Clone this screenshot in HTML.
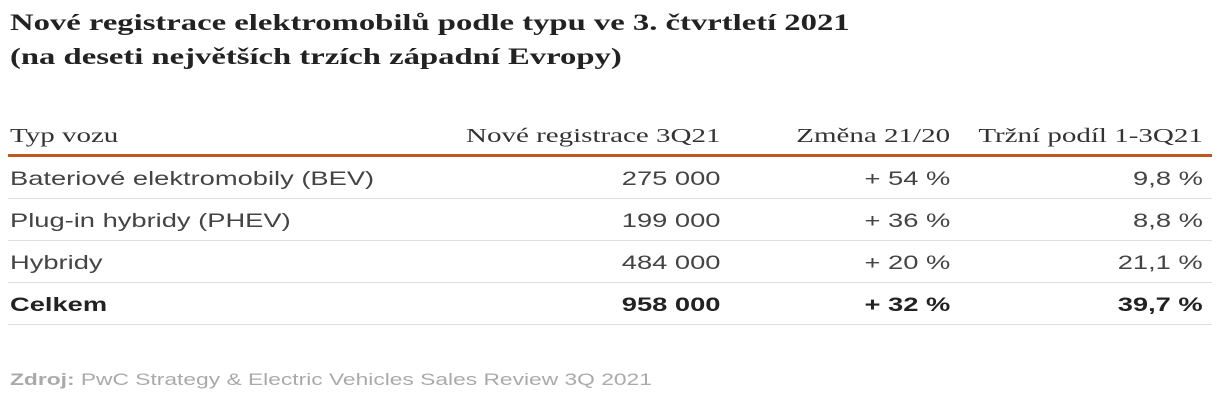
<!DOCTYPE html>
<html><head><meta charset="utf-8"><style>
body{margin:0;width:1227px;height:406px;background:#fff;position:relative;overflow:hidden;font-family:"Liberation Sans",sans-serif}
.t{position:absolute;left:10px;font-family:"Liberation Serif",serif;font-weight:bold;font-size:23px;color:#222;white-space:nowrap;transform:scaleX(1.42);transform-origin:left center}
.h{position:absolute;top:125px;font-family:"Liberation Serif",serif;font-size:20px;color:#333;white-space:nowrap;transform:scaleX(1.45);transform-origin:right center}
.c{position:absolute;font-size:19.5px;color:#444;white-space:nowrap;transform:scaleX(1.4);transform-origin:right center}
.l{transform-origin:left center}
.sep{position:absolute;left:8px;width:1204px;height:1px;background:#ddd}
.b{font-weight:bold;color:#222}
</style></head><body>
<div class="t" style="top:10px">Nové registrace elektromobilů podle typu ve 3. čtvrtletí 2021</div>
<div class="t" style="top:44px">(na deseti největších trzích západní Evropy)</div>
<div class="h l" style="left:10px">Typ vozu</div>
<div class="h" style="right:507px">Nové registrace 3Q21</div>
<div class="h" style="right:277px">Změna 21/20</div>
<div class="h" style="right:24px">Tržní podíl 1-3Q21</div>
<div style="position:absolute;left:8px;top:154px;width:1204px;height:3px;background:#c0571c"></div>
<div id="rows"></div>
<div style="position:absolute;left:10px;top:370px;font-size:17px;color:#aaa;white-space:nowrap;transform:scaleX(1.34);transform-origin:left center"><b>Zdroj:</b> PwC Strategy &amp; Electric Vehicles Sales Review 3Q 2021</div>
<script>
const types=["Bateriové elektromobily (BEV)","Plug-in hybridy (PHEV)","Hybridy","Celkem"];
const regs=["275 000","199 000","484 000","958 000"];
const changes=["+ 54 %","+ 36 %","+ 20 %","+ 32 %"];
const shares=["9,8 %","8,8 %","21,1 %","39,7 %"];
const host=document.getElementById('rows');
types.forEach((t,i)=>{
  const top=168+i*42;
  const cells=[[t,'left:10px','type-cell',true],[regs[i],'right:507px','registrations-cell',false],[changes[i],'right:277px','change-cell',false],[shares[i],'right:24px','share-cell',false]];
  cells.forEach(c=>{
    const d=document.createElement('div');
    d.className='c'+(c[3]?' l':'')+(i===3?' b':'');
    d.style.cssText=c[1]+';top:'+top+'px';
    d.textContent=c[0];
    
    
    host.appendChild(d);
  });
  const s=document.createElement('div');
  s.className='sep';
  s.style.top=(top+30)+'px';
  
  
  host.appendChild(s);
});
</script>
</body></html>
